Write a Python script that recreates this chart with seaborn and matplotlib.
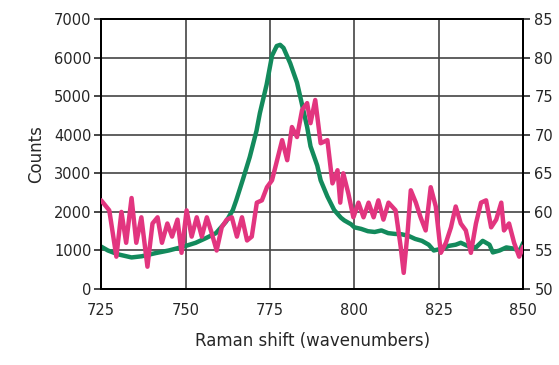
import seaborn as sns
import matplotlib.pyplot as plt

# green trace, left axis (counts)
green_x = [725, 727, 730, 734, 737, 741, 745, 749, 753, 756, 759, 762, 764, 765, 767,
           769, 771, 772, 774, 775.6, 777, 778, 779, 781, 783, 784, 786, 787, 789, 790,
           792, 794, 796, 797, 799, 800, 802, 804, 806, 808, 810, 812, 814, 816, 818,
           820, 822, 823.5, 826, 828, 830, 831.5, 834, 836, 838, 840, 841, 843, 845,
           847, 849, 850]
green_y = [1100, 1000, 900, 820, 850, 930, 1000, 1090, 1200, 1320, 1450, 1750, 2050, 2300, 2850,
           3420, 4100, 4560, 5300, 6050, 6300, 6330, 6250, 5850, 5350, 4970, 4200, 3700, 3200, 2820,
           2400, 2050, 1850, 1780, 1680, 1600, 1560, 1500, 1480, 1520, 1450, 1430, 1420, 1380, 1300,
           1250, 1150, 1000, 1050, 1120, 1150, 1200, 1100, 1080, 1250, 1150, 950, 1000, 1080,
           1050, 1000, 1200]

# pink trace, right axis
pink_x = [725, 727.4, 729.5, 731, 732.4, 734, 735.4, 736.9, 738.7, 740.2, 741.7, 743, 744.6,
          746, 747.6, 748.8, 750.3, 751.8, 753.3, 754.8, 756.3, 757.7, 759.2, 760.7, 762.2,
          763.7, 765.2, 766.7, 768.2, 769.6, 771.1, 772.6, 774.1, 775.6, 777.1, 778.6, 780.1,
          781.5, 783, 784.5, 786, 787, 788.4, 790, 792, 793.5, 795, 795.8, 796.7, 798.2,
          799.7, 801.2, 802.7, 804.2, 805.7, 807.1, 808.6, 810.1, 812.2, 813.7, 814.6, 815.8,
          816.7, 818.2, 819.6, 821.1, 822.6, 824.1, 825.6, 827.1, 828.6, 830, 831.5, 833,
          834.5, 836, 837.5, 839, 840.5, 842, 843.5, 844.3, 845.8, 847.3, 848.8, 850]
pink_y = [61.5, 60.2, 54.2, 60.0, 56.0, 61.8, 56.0, 59.3, 52.9, 58.5, 59.3, 56.0, 58.5,
          56.8, 59.0, 54.7, 60.2, 56.8, 59.3, 56.8, 59.3, 57.3, 55.0, 58.0, 59.0,
          59.3, 56.8, 59.3, 56.3, 56.8, 61.2, 61.5, 63.2, 64.1, 66.7, 69.3, 66.7,
          71.0, 69.7, 73.2, 74.1, 71.5, 74.5, 68.9, 69.3, 63.7, 65.4, 61.2, 65.0, 62.4,
          59.3, 61.2, 59.3, 61.2, 59.3, 61.5, 59.0, 61.2, 60.2, 55.5, 52.1, 57.6,
          62.8, 61.2, 59.3, 57.6, 63.2, 60.7, 54.7, 56.0, 58.0, 60.7, 58.5, 57.6,
          54.7, 58.5, 61.2, 61.5, 58.0, 59.0, 61.2, 57.6, 58.5, 56.0, 54.2, 55.5]

x_ticks = [725, 750, 775, 800, 825, 850]
left_ticks = [0, 1000, 2000, 3000, 4000, 5000, 6000, 7000]
right_ticks = [50, 55, 60, 65, 70, 75, 80, 85]

sns.set_style("white")
plt.rcParams['font.family'] = ['DejaVu Sans']

fig = plt.figure(figsize=(5.59, 3.65), dpi=100)
ax = fig.add_axes([0.181, 0.208, 0.755, 0.740])
ax2 = ax.twinx()

sns.lineplot(x=green_x, y=green_y, ax=ax, color='#138a5c', linewidth=3.2, zorder=3)
sns.lineplot(x=pink_x, y=pink_y, ax=ax2, color='#e2357f', linewidth=3.2, zorder=3)

ax.set_xlim(725, 850)
ax.set_ylim(0, 7000)
ax2.set_ylim(50, 85)
ax.set_xticks(x_ticks)
ax.set_yticks(left_ticks)
ax2.set_yticks(right_ticks)

ax.grid(True, color='#444444', linewidth=1.2)
ax.set_axisbelow(True)
for a in (ax, ax2):
    for s in a.spines.values():
        s.set_color('black')
        s.set_linewidth(1.4)

ax.tick_params(axis='y', direction='out', length=5, width=1.2, labelsize=10.5, pad=2)
ax.tick_params(axis='x', direction='inout', length=8, width=1.2, labelsize=10.5, pad=6)
ax2.tick_params(axis='y', direction='out', length=5, width=1.2, labelsize=10.5, pad=3)

ax.set_xlabel('Raman shift (wavenumbers)', fontsize=12, labelpad=10)
ax.set_ylabel('Counts', fontsize=12, labelpad=6)

fig.savefig('out.png', dpi=100, facecolor='white')
